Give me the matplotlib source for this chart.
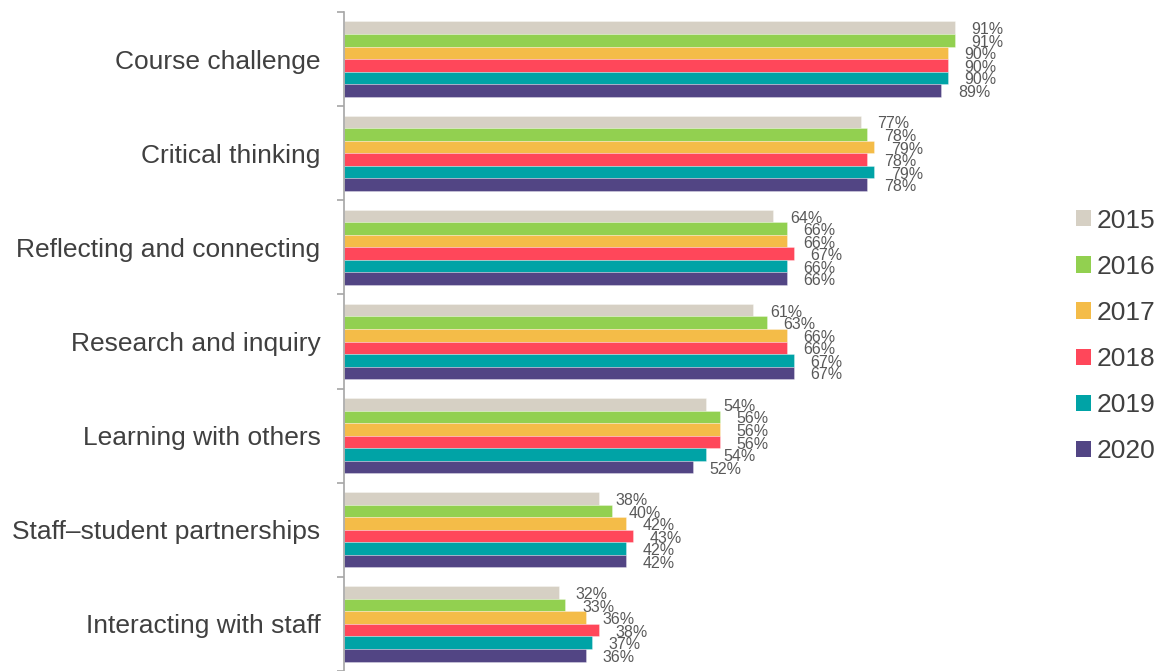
import numpy as np
import matplotlib
matplotlib.use("Agg")
import matplotlib.pyplot as plt
from matplotlib.patches import Patch

plt.rcParams['font.family'] = ['Liberation Sans', 'DejaVu Sans']

categories = [
    "Course challenge",
    "Critical thinking",
    "Reflecting and connecting",
    "Research and inquiry",
    "Learning with others",
    "Staff\u2013student partnerships",
    "Interacting with staff",
]
years = ["2015", "2016", "2017", "2018", "2019", "2020"]
values_2015 = [91, 77, 64, 61, 54, 38, 32]
values_2016 = [91, 78, 66, 63, 56, 40, 33]
values_2017 = [90, 79, 66, 66, 56, 42, 36]
values_2018 = [90, 78, 67, 66, 56, 43, 38]
values_2019 = [90, 79, 66, 67, 54, 42, 37]
values_2020 = [89, 78, 66, 67, 52, 42, 36]
series = [values_2015, values_2016, values_2017, values_2018, values_2019, values_2020]
colors = ["#D6D0C4", "#92D050", "#F4BC48", "#FF475A", "#00A3A6", "#524584"]

fig = plt.figure(figsize=(11.61, 6.71), dpi=100)
ax = fig.add_axes([344 / 1161, 0.0, (1015 - 344) / 1161, 1 - 12 / 671])

n = len(years)
bar_h = 0.8 / n
y_base = np.arange(len(categories))

for i, (vals, col) in enumerate(zip(series, colors)):
    ypos = y_base - 0.4 + bar_h * (i + 0.5)
    ax.barh(ypos, vals, height=bar_h, color=col, edgecolor=(1, 1, 1, 0.35),
            linewidth=0.6)
    for y, v in zip(ypos, vals):
        ax.annotate(f"{v}%", xy=(v, y), xytext=(12, -1.5), textcoords="offset points",
                    ha="left", va="center", fontsize=11.5, color="#595959")

ax.set_xlim(0, 100)
ax.set_ylim(len(categories) - 0.5, -0.5)
ax.set_yticks(y_base)
ax.set_yticklabels(categories, fontsize=19, color="#404040")
ax.set_yticks(np.arange(-0.5, len(categories), 1.0), minor=True)
ax.tick_params(axis="y", which="major", length=0, pad=17)
ax.tick_params(axis="y", which="minor", length=5, color="#A6A6A6", width=1.2)
ax.set_xticks([])
for s in ["top", "right", "bottom"]:
    ax.spines[s].set_visible(False)
ax.spines["left"].set_color("#A6A6A6")
ax.spines["left"].set_linewidth(1.2)

handles = [Patch(facecolor=c, label=y) for c, y in zip(colors, years)]
leg = fig.legend(handles=handles, loc="center left", bbox_to_anchor=(1065 / 1161, 1 - 336 / 671),
                 frameon=False, fontsize=19, handlelength=0.58, handleheight=0.58,
                 handletextpad=0.22, labelspacing=0.84, borderaxespad=0)
for t in leg.get_texts():
    t.set_color("#404040")

fig.savefig("out.png", dpi=100)
